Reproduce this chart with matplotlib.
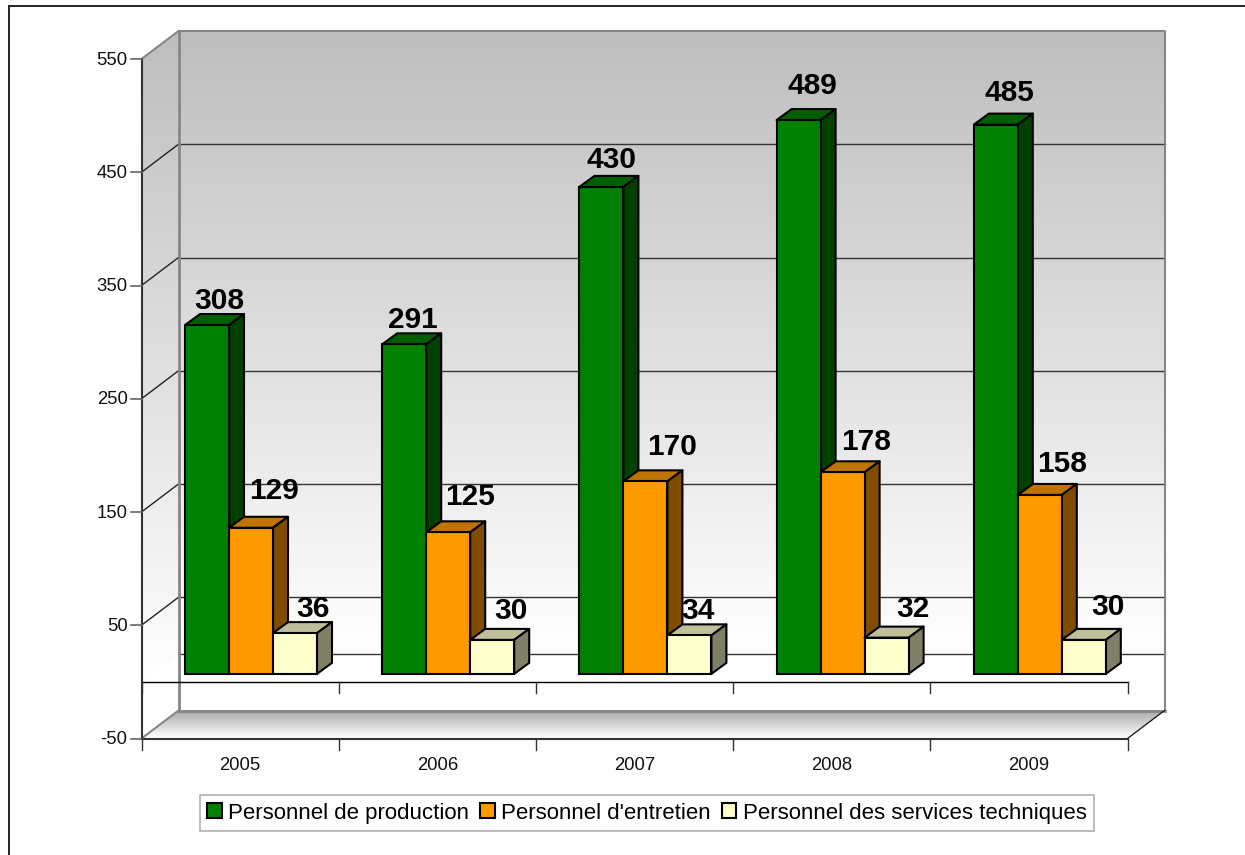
import matplotlib
matplotlib.use('Agg')
import matplotlib.pyplot as plt
import numpy as np
from matplotlib.patches import Polygon, Rectangle

plt.rcParams['font.family'] = ['Liberation Sans', 'DejaVu Sans']

years = ['2005', '2006', '2007', '2008', '2009']
production = [308, 291, 430, 489, 485]
entretien = [129, 125, 170, 178, 158]
techniques = [36, 30, 34, 32, 30]
series_names = ['Personnel de production', "Personnel d'entretien",
                'Personnel des services techniques']
y_ticks = [-50, 50, 150, 250, 350, 450, 550]

# hand placed data labels, pixels from the bar's top centre (one row per series)
label_dx = [[12, 9, 10, 14, 14],
            [23, 22, 27, 23, 22],
            [18, 19, 9, 26, 24]]
label_dy = [[13, 13, 16, 23, 21],
            [26, 24, 23, 19, 20],
            [13, 18, 13, 18, 22]]

W, H = 1245, 855
fig = plt.figure(figsize=(W / 100, H / 100), dpi=100)
# front plane of the fake 3d box, pixels from the reference
left, right, top, bottom = 141.5, 1127.5, 59, 738.5
depth_x, depth_y = 37, 28

px_x = 5 / (right - left)
px_y = 600 / (bottom - top)
# depth of the box and of the bars
dx, dy = depth_x * px_x, depth_y * px_y
bar_dx, bar_dy = 15 * px_x, 11 * px_y
bar_w = 44 * px_x
group_off = 43.5 * px_x
base = 8 * px_y

# axes also hold the depth, images get clipped to them otherwise
ax = fig.add_axes([left / W, 1 - bottom / H, (right + depth_x - left) / W, (bottom - top + depth_y) / H])
ax.axis('off')


def gradient(top_col, bot_col, extent, clip=None, z=1):
    ramp = np.linspace(0, 1, 256)[:, None, None]
    c0 = np.array(matplotlib.colors.to_rgb(top_col))
    c1 = np.array(matplotlib.colors.to_rgb(bot_col))
    img = ax.imshow(c0 * (1 - ramp) + c1 * ramp, extent=extent, aspect='auto',
                    origin='upper', zorder=z)
    if clip is not None:
        img.set_clip_path(clip)
    return img


# back wall, white under the zero line
gradient('#bebebe', '#ffffff', [dx, 5 + dx, dy, 550 + dy], z=1)
# side wall
side = Polygon([(0, 0), (dx, dy), (dx, 550 + dy), (0, 550)], closed=True,
               transform=ax.transData, fc='none', ec='none')
ax.add_patch(side)
gradient('#bebebe', '#ffffff', [0, dx, 0, 550 + dy], clip=side, z=1)
# floor
floor = Polygon([(0, -50), (dx, -50 + dy), (5 + dx, -50 + dy), (5, -50)], closed=True,
                transform=ax.transData, fc='none', ec='none')
ax.add_patch(floor)
gradient('#a8a8a8', '#ffffff', [0, 5 + dx, -50, -50 + dy], clip=floor, z=1)
ax.set_xlim(0, 5 + dx)
ax.set_ylim(-50, 550 + dy)

# grid lines on the walls
for v in [0] + y_ticks[1:-1]:
    ax.plot([dx, 5 + dx], [v + dy, v + dy], color='#333333', lw=1, zorder=2, clip_on=False)
for v in y_ticks[1:-1]:
    ax.plot([0, dx], [v, v + dy], color='#222222', lw=1, zorder=2, clip_on=False)

# box edges
grey = '#868686'
ax.plot([dx, 5 + dx, 5 + dx], [550 + dy, 550 + dy, -50 + dy], color=grey, lw=1.5, zorder=3, clip_on=False)
ax.plot([dx, dx], [550 + dy, -50 + dy], color=grey, lw=2, zorder=3, clip_on=False)
ax.plot([dx, 5 + dx], [-50 + dy, -50 + dy], color=grey, lw=2, zorder=3, clip_on=False)
ax.plot([0, dx], [550, 550 + dy], color=grey, lw=1.5, zorder=3, clip_on=False)
ax.plot([0, dx], [-50, -50 + dy], color=grey, lw=1.5, zorder=3, clip_on=False)
ax.plot([5, 5 + dx], [-50, -50 + dy], color='#222222', lw=1, zorder=3, clip_on=False)

# axes lines and ticks
ax.plot([0, 0], [-50, 550], color='#333333', lw=1.5, zorder=3, clip_on=False)
ax.plot([0, 5], [-50, -50], color='#333333', lw=1.5, zorder=3, clip_on=False)
ax.plot([0, 5], [0, 0], color='black', lw=1, zorder=3, clip_on=False)
for v in y_ticks:
    ax.plot([-11 * px_x, 0], [v, v], color='#666666', lw=1.2, zorder=3, clip_on=False)
    ax.text(-14 * px_x, v - 1.2 * px_y, str(v), ha='right', va='center', fontsize=13.3, color='#111111')
for i in range(6):
    ax.plot([i, i], [-50, -50 - 11 * px_y], color='#333333', lw=1, zorder=3, clip_on=False)
    ax.plot([i, i], [0, -11 * px_y], color='#333333', lw=1, zorder=3, clip_on=False)
for i, year in enumerate(years):
    ax.text(i + 0.5, -50 - 26.5 * px_y, year, ha='center', va='center', fontsize=13.3, color='#111111')

# bars: front face, top and side, colours are (front, top, side)
colours = [('#008000', '#006000', '#004000'),
           ('#ff9900', '#bf7300', '#804d00'),
           ('#ffffcc', '#bfbf99', '#808066')]
series = [production, entretien, techniques]
for s, (values, cols) in enumerate(zip(series, colours)):
    for i, v in enumerate(values):
        x0 = i + group_off + s * bar_w
        x1 = x0 + bar_w
        y0 = base
        y1 = v + base
        z = 5 + s * 0.1 + i
        ax.add_patch(Polygon([(x0, y1), (x0 + bar_dx, y1 + bar_dy), (x1 + bar_dx, y1 + bar_dy), (x1, y1)],
                             closed=True, fc=cols[1], ec='black', lw=1.5, zorder=z, clip_on=False, joinstyle='round'))
        ax.add_patch(Polygon([(x1, y0), (x1 + bar_dx, y0 + bar_dy), (x1 + bar_dx, y1 + bar_dy), (x1, y1)],
                             closed=True, fc=cols[2], ec='black', lw=1.5, zorder=z, clip_on=False, joinstyle='round'))
        ax.add_patch(Rectangle((x0, y0), bar_w, v, fc=cols[0], ec='black', lw=1.5, zorder=z, clip_on=False))
        ax.text(x0 + bar_w / 2 + label_dx[s][i] * px_x, y1 + bar_dy + label_dy[s][i] * px_y, str(v),
                ha='center', va='center', fontsize=21.5, fontweight='bold', color='black', zorder=20)

# legend
handles = [Rectangle((0, 0), 1, 1, fc=c[0], ec='black', lw=1.5) for c in colours]
leg = fig.legend(handles, series_names, loc='center', bbox_to_anchor=(647 / W, 1 - 813 / H),
                 ncol=3, fontsize=16, frameon=True, fancybox=False, edgecolor='#b0b0b0', framealpha=1,
                 handlelength=0.64, handleheight=0.64, handletextpad=0.3, columnspacing=0.5,
                 borderpad=0.35, borderaxespad=0)
leg.get_frame().set_linewidth(1.2)

# outer border of the chart, runs off the right and bottom of the image
fig.add_artist(Rectangle((8.5 / W, -0.01), 1.1, 1 - 6.5 / H + 0.01, transform=fig.transFigure,
                         fc='none', ec='#222222', lw=1.4))

fig.savefig('out.png', dpi=100)
